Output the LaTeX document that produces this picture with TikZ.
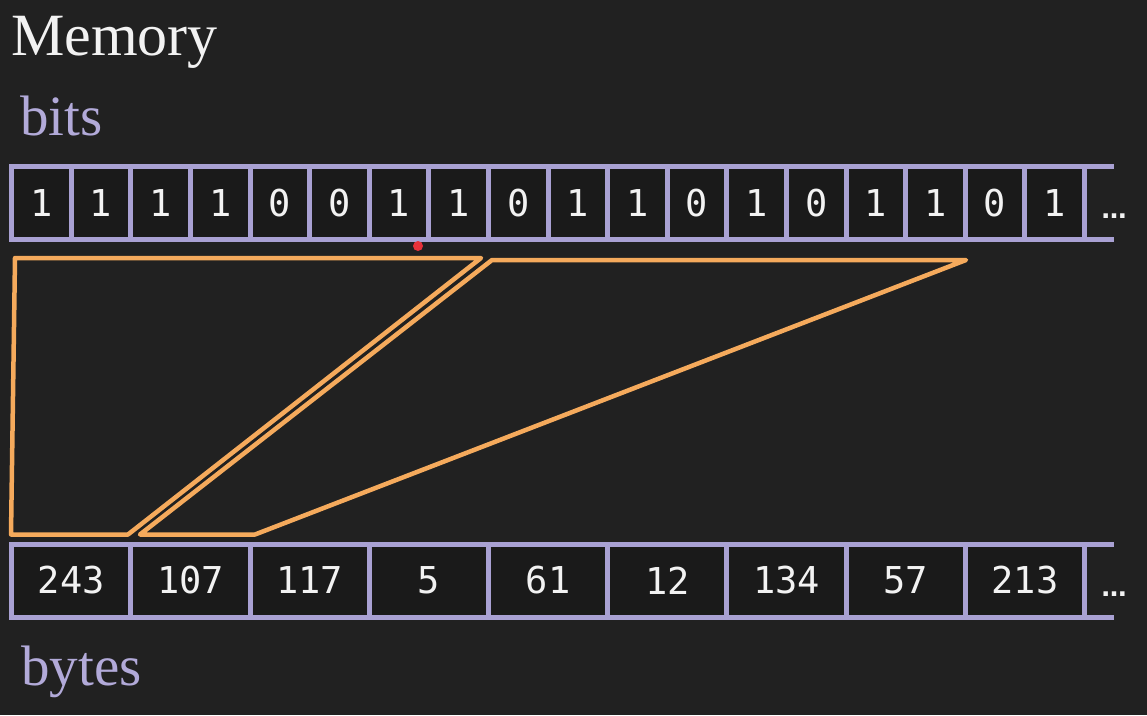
\documentclass[tikz,border=0pt]{standalone}
\usepackage{fontspec}
\setmonofont{DejaVu Sans Mono}
\newfontfamily\dotsfont{DejaVu Sans}
\newfontfamily\labelfont{Liberation Serif}
\definecolor{bg}{HTML}{212121}
\definecolor{cellbg}{HTML}{1A1A1A}
\definecolor{cellline}{HTML}{A9A1D3}
\definecolor{labelcol}{HTML}{B2AAD9}
\definecolor{digitcol}{HTML}{F2F2F2}
\definecolor{orangecol}{HTML}{F5AA5C}
\definecolor{reddot}{HTML}{E8323A}
\begin{document}
\begin{tikzpicture}[x=1pt,y=-1pt,
  cellbase/.style={draw=cellline, line width=5pt, fill=cellbg, inner sep=0pt, outer sep=0pt,
    minimum height=73pt, text=digitcol, font=\ttfamily\fontsize{37}{37}\selectfont},
  bitcell/.style={cellbase, minimum width=59.6pt},
  bytecell/.style={cellbase, minimum width=119.2pt},
  rowline/.style={draw=cellline, line width=5pt},
  moredots/.style={text=digitcol, font=\dotsfont\bfseries\fontsize{25}{25}\selectfont, inner sep=0pt, anchor=base},
  title/.style={text=digitcol, font=\labelfont\fontsize{60}{60}\selectfont, inner sep=0pt, anchor=base west},
  rowlabel/.style={text=labelcol, font=\labelfont\fontsize{57}{57}\selectfont, inner sep=0pt, anchor=base west},
  group/.style={draw=orangecol, line width=4.5pt, line join=round}]
\fill[bg] (0,0) rectangle (1147,715);
\useasboundingbox (0,0) rectangle (1147,715);

\node[title] (memory) at (11,55) {Memory};
\node[rowlabel] (bitslabel) at (20,135) {bits};
\node[rowlabel] (byteslabel) at (21,685) {bytes};

% bits row
\foreach \v [count=\i] in {1,1,1,1,0,0,1,1,0,1,1,0,1,0,1,1,0,1}
  \node[bitcell] (b\i) at ({11.7+59.6*(\i-0.5)},203) {\v};
\coordinate (bitsendtop) at (1114,166.5);
\coordinate (bitsendbot) at (1114,239.5);
\draw[rowline] (b18.north east) -- (bitsendtop);
\draw[rowline] (b18.south east) -- (bitsendbot);
\node[moredots] (bitsmore) at (1114,218) {…};

% bytes row
\foreach \v [count=\i] in {243,107,117,5,61,12,134,57,213}
  \node[bytecell] (y\i) at ({11.7+119.2*(\i-0.5)},580.5) {\v};
\coordinate (bytesendtop) at (1114,544);
\coordinate (bytesendbot) at (1114,617);
\draw[rowline] (y9.north east) -- (bytesendtop);
\draw[rowline] (y9.south east) -- (bytesendbot);
\node[moredots] (bytesmore) at (1114,596) {…};

% grouping shapes
\draw[group] (15,258) -- (481,258) -- (128,534.5) -- (11,534.5) -- cycle;
\draw[group] (492,260) -- (966,260) -- (255,534.5) -- (140,534.5) -- cycle;

% red marker
\fill[reddot] (418,246) circle[radius=5pt];
\end{tikzpicture}
\end{document}
